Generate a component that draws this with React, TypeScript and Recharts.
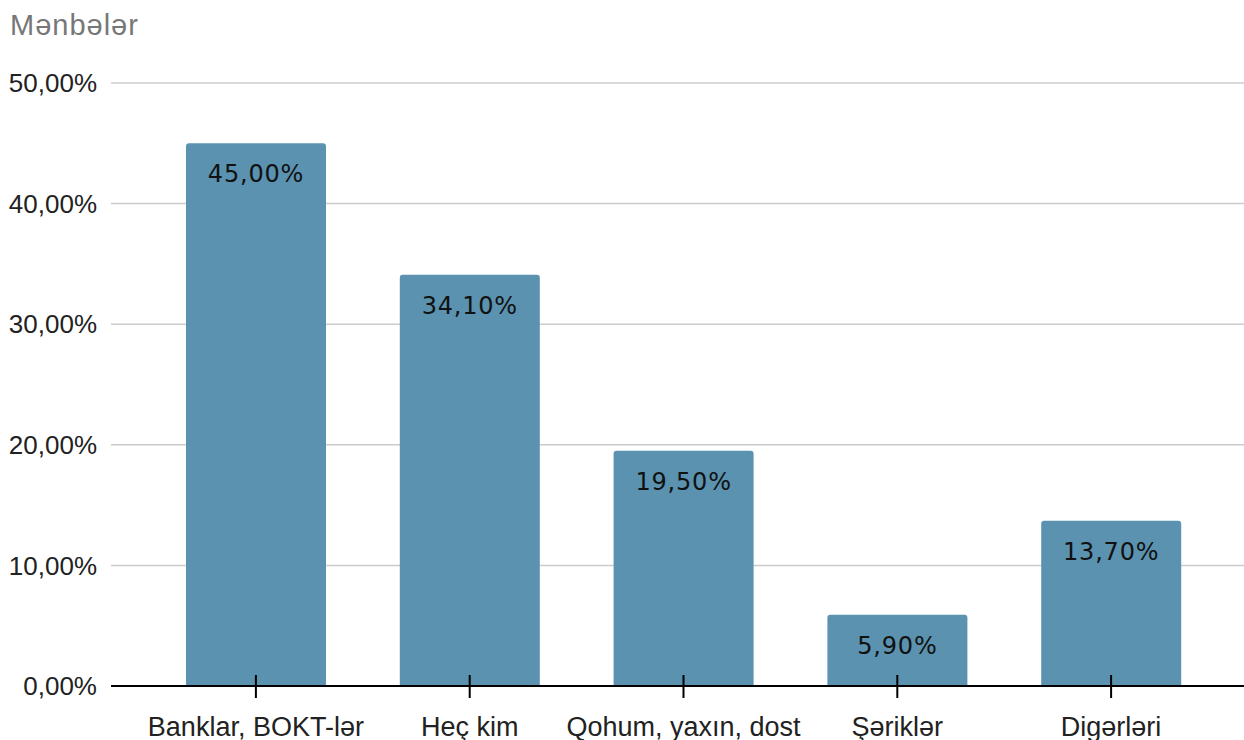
import { BarChart, Bar, XAxis, YAxis, CartesianGrid, LabelList } from "recharts";

const categories = ["Banklar, BOKT-lər", "Heç kim", "Qohum, yaxın, dost", "Şəriklər", "Digərləri"];
const shares = [45.0, 34.1, 19.5, 5.9, 13.7];
const yTicks = [0, 10, 20, 30, 40, 50];

const data = categories.map((name, i) => ({ name, value: shares[i] }));

const pct = (v: number) => `${v.toFixed(2).replace(".", ",")}%`;

function XTick(props: any) {
  const { x, y, payload } = props;
  return (
    <g>
      <line x1={x} x2={x} y1={y - 11} y2={y + 12} stroke="#000" strokeWidth={2} />
      <text
        x={x}
        y={y + 41}
        textAnchor="middle"
        dominantBaseline="central"
        fill="#222"
        fontSize={27}
        fontFamily="'Liberation Sans', Arial, sans-serif"
      >
        {payload.value}
      </text>
    </g>
  );
}

export default function App() {
  return (
    <div style={{ position: "absolute", left: 0, top: 0, width: 1244, height: 740, background: "#fff" }}>
      <div
        style={{
          position: "absolute",
          left: 10,
          top: 9,
          fontFamily: "'Liberation Sans', Arial, sans-serif",
          fontSize: 29,
          letterSpacing: 1,
          color: "#777",
        }}
      >
        Mənbələr
      </div>
      <BarChart width={1244} height={740} data={data} margin={{ top: 83, right: 0, bottom: 0, left: 0 }}>
        <CartesianGrid vertical={false} stroke="#cccccc" strokeWidth={1.5} />
        <XAxis
          dataKey="name"
          height={54}
          padding={{ left: 38, right: 26 }}
          axisLine={{ stroke: "#000", strokeWidth: 2 }}
          tickLine={false}
          tickSize={0}
          tickMargin={0}
          interval={0}
          tick={<XTick />}
        />
        <YAxis
          width={111}
          domain={[0, 50]}
          ticks={yTicks}
          tickFormatter={pct}
          axisLine={false}
          tickLine={false}
          tickSize={0}
          tickMargin={14}
          tick={{ fill: "#222", fontSize: 26, fontFamily: "'Liberation Sans', Arial, sans-serif" }}
        />
        <Bar dataKey="value" fill="#5a92b0" barSize={140} radius={[3, 3, 0, 0]} isAnimationActive={false}>
          <LabelList
            dataKey="value"
            position="insideTop"
            offset={22}
            formatter={(v: any) => pct(Number(v))}
            fill="#111"
            fontSize={24}
            letterSpacing={0.8}
            fontFamily="'DejaVu Sans', sans-serif"
          />
        </Bar>
      </BarChart>
    </div>
  );
}
